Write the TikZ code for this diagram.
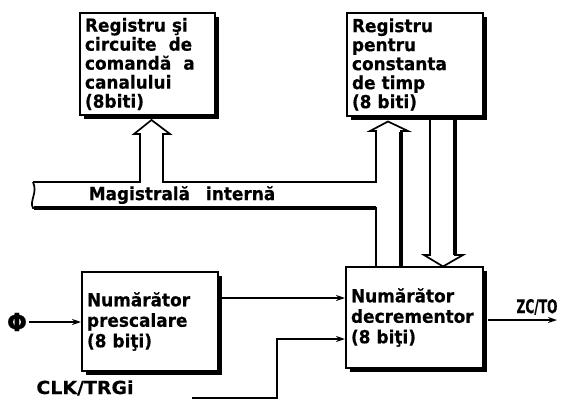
\documentclass[tikz,border=0pt]{standalone}
\usepackage{fontspec}
\setmainfont{DejaVu Sans}[FakeStretch=0.94,BoldFeatures={FakeBold=0.4}]
\usetikzlibrary{arrows.meta}
\begin{document}
\begin{tikzpicture}[x=1pt,y=-1pt,
  txt/.style={font=\fontsize{18pt}{18pt}\selectfont\bfseries},
  blk/.style={draw,line width=2pt,fill=white,rectangle,align=left,
    inner xsep=5pt,inner ysep=0pt},
  upper/.style={blk,font=\fontsize{18pt}{19pt}\selectfont\bfseries},
  lower/.style={blk,font=\fontsize{18pt}{20.5pt}\selectfont\bfseries},
  arr/.style={line width=1.8pt,-{Stealth[length=9pt,width=6pt]}},
  bus/.style={line width=1.7pt,line join=miter},
  busthick/.style={line width=3.2pt},
  shfill/.style={fill=black}]
\useasboundingbox (0,0) rectangle (585,401);

% shadows of the boxes
\fill[shfill] (84,17) rectangle (219,119);
\fill[shfill] (351,17) rectangle (487,120);
\fill[shfill] (86,276) rectangle (222,375);
\fill[shfill] (350,271) rectangle (487,372);

% boxes
\node[upper,minimum width=135pt,minimum height=102pt,text width=125pt] (r1) at (147.5,64)
  {Registru şi\\circuite\ \ de\\comandă\ \ a\\canalului\\(8biti)};
\node[upper,minimum width=136pt,minimum height=103pt,text width=126pt] (r2) at (415,64.5)
  {Registru\\pentru\\constanta\\de timp\\(8 biti)};
\node[lower,minimum width=136pt,minimum height=99pt,text width=126pt] (pre) at (150,321.5)
  {Numărător\\prescalare\\(8 biţi)};
\node[lower,minimum width=137pt,minimum height=101pt,text width=127pt] (dec) at (414.5,317.5)
  {Numărător\\decrementor\\(8 biţi)};

% internal bus (wide arrows)
\draw[bus] (33,182) -- (140,182) -- (140,134) -- (134,134) -- (151.5,120) -- (170,134)
  -- (163,134) -- (163,182) -- (376,182) -- (376,131) -- (370,131) -- (388,121.5)
  -- (408,131) -- (401,131) -- (401,267);
\draw[bus] (376,267) -- (376,208) -- (33,208)
  .. controls (29,201) and (38,193) .. (33,182);
\draw[busthick] (401,132) -- (401,267);
\draw[busthick] (376,208) -- (34,208);
\node[txt] (bus) at (182,195) {Magistrală\hspace{16pt}internă};

% wide arrow from timer constant register to decrementer
\draw[bus] (430,120) -- (430,255) -- (424,255) -- (443,266.5) -- (463,255) -- (455,255) -- (455,120);
\draw[busthick] (455,120) -- (455,255);

% signals
\node[txt,font=\fontsize{25pt}{25pt}\selectfont\bfseries,inner sep=2pt] (phi) at (17,322) {Φ};
\draw[arr] (phi.east) -- (phi.east -| pre.west);
\draw[arr] ([yshift=23.5pt]pre.east) -- ([yshift=23.5pt]pre.east -| dec.west);
\node[txt] (clk) at (85,388) {\scalebox{1.12}[1]{CLK/TRGi}};
\coordinate (clkin) at (192,398);
\coordinate (clkup) at (277,398);
\draw[arr] (clkin) -- (clkup) |- ([yshift=-21.5pt]dec.west);
\coordinate (zcout) at (557,320);
\draw[arr] ([xshift=4pt]dec.east |- zcout) -- (zcout);
\node[txt] (zc) at (537,307) {\scalebox{0.72}[1.05]{ZC/TO}};
\end{tikzpicture}
\end{document}
